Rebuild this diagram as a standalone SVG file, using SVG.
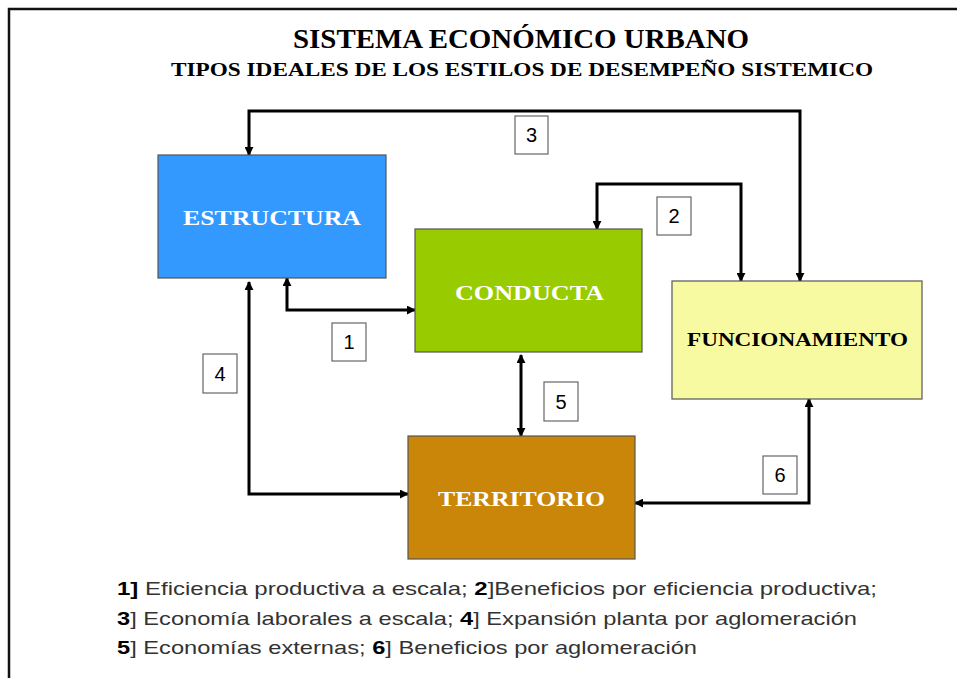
<svg xmlns="http://www.w3.org/2000/svg" width="957" height="678" viewBox="0 0 957 678">
<defs>
<marker id="ah" viewBox="0 0 10 10" refX="9" refY="5" markerWidth="9" markerHeight="9" markerUnits="userSpaceOnUse" orient="auto-start-reverse">
<path d="M0,0 L10,5 L0,10 z" fill="#000"/>
</marker>
<style>
.frame{fill:none;stroke:#111;stroke-width:2.5}
.node{stroke:#555;stroke-width:1.2}
.ntext{font-family:"Liberation Serif","Times New Roman",serif;font-weight:bold;text-anchor:middle;dominant-baseline:central}
.conn{fill:none;stroke:#000;stroke-width:3;marker-end:url(#ah)}
.both{marker-start:url(#ah)}
.lbox{fill:#fff;stroke:#666;stroke-width:1.2}
.ltext{font-family:"Liberation Sans",Arial,sans-serif;font-size:20px;text-anchor:middle;dominant-baseline:central;fill:#000}
.title{font-family:"Liberation Serif","Times New Roman",serif;font-weight:bold;text-anchor:middle;fill:#000}
.legend{font-family:"Liberation Sans",Arial,sans-serif;font-size:19px;fill:#333}
.legend tspan.b{font-weight:bold;fill:#000}
</style>
</defs>
<rect width="957" height="678" fill="#fff"/>
<path class="frame" d="M9,678 V9 H957"/>
<text class="title" x="521" y="48" font-size="27" textLength="456" lengthAdjust="spacingAndGlyphs">SISTEMA ECONÓMICO URBANO</text>
<text class="title" x="522" y="76" font-size="19" textLength="702" lengthAdjust="spacingAndGlyphs">TIPOS IDEALES DE LOS ESTILOS DE DESEMPEÑO SISTEMICO</text>

<g id="connectors">
<path class="conn both" d="M249,155 V111 H800 V281"/>
<path class="conn both" d="M597,229 V184 H741 V281"/>
<path class="conn both" d="M287,278 V310 H415"/>
<path class="conn both" d="M249,282 V494 H408"/>
<path class="conn both" d="M521,355 V436"/>
<path class="conn both" d="M809,399 V503 H635"/>
</g>

<g id="estructura">
<rect class="node" x="158" y="155" width="228" height="123" fill="#3399FF"/>
<text class="ntext" x="272" y="217" font-size="22" fill="#fff" textLength="178" lengthAdjust="spacingAndGlyphs">ESTRUCTURA</text>
</g>
<g id="conducta">
<rect class="node" x="415" y="229" width="227" height="123" fill="#99CC00"/>
<text class="ntext" x="529.5" y="292" font-size="22" fill="#fff" textLength="149" lengthAdjust="spacingAndGlyphs">CONDUCTA</text>
</g>
<g id="funcionamiento">
<rect class="node" x="672" y="281" width="250" height="118" fill="#F8FAA2"/>
<text class="ntext" x="797.5" y="340" font-size="18" fill="#000" textLength="221" lengthAdjust="spacingAndGlyphs">FUNCIONAMIENTO</text>
</g>
<g id="territorio">
<rect class="node" x="408" y="436" width="227" height="123" fill="#C98609"/>
<text class="ntext" x="521.5" y="498" font-size="22" fill="#fff" textLength="167" lengthAdjust="spacingAndGlyphs">TERRITORIO</text>
</g>

<g id="label-3"><rect class="lbox" x="515" y="116" width="33" height="38"/><text class="ltext" x="531.5" y="135">3</text></g>
<g id="label-2"><rect class="lbox" x="657" y="197" width="34" height="38"/><text class="ltext" x="674" y="216">2</text></g>
<g id="label-1"><rect class="lbox" x="332" y="323" width="34" height="38"/><text class="ltext" x="349" y="342">1</text></g>
<g id="label-4"><rect class="lbox" x="203" y="354" width="34" height="39"/><text class="ltext" x="220" y="373.5">4</text></g>
<g id="label-5"><rect class="lbox" x="544" y="382" width="34" height="39"/><text class="ltext" x="561" y="401.5">5</text></g>
<g id="label-6"><rect class="lbox" x="763" y="456" width="34" height="38"/><text class="ltext" x="780" y="475">6</text></g>

<text class="legend" x="117" y="595" textLength="760" lengthAdjust="spacingAndGlyphs"><tspan class="b">1]</tspan> Eficiencia productiva a escala; <tspan class="b">2</tspan>]Beneficios por eficiencia productiva;</text>
<text class="legend" x="117" y="625" textLength="740" lengthAdjust="spacingAndGlyphs"><tspan class="b">3</tspan>] Economía laborales a escala; <tspan class="b">4</tspan>] Expansión planta por aglomeración</text>
<text class="legend" x="117" y="654" textLength="580" lengthAdjust="spacingAndGlyphs"><tspan class="b">5</tspan>] Economías externas; <tspan class="b">6</tspan>] Beneficios por aglomeración</text>
</svg>
